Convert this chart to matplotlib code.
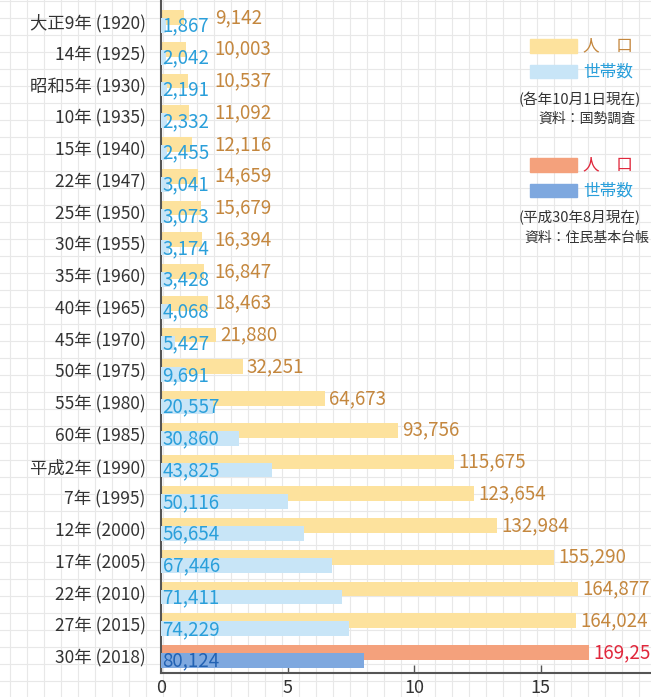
import numpy as np
import matplotlib
matplotlib.use('Agg')
import matplotlib.pyplot as plt
from matplotlib.patches import Rectangle

plt.rcParams['font.family'] = ['Noto Sans CJK JP', 'DejaVu Sans']

# data (population and households, 10,000 units on the axis)
labels = ['大正9年 (1920)', '14年 (1925)', '昭和5年 (1930)', '10年 (1935)', '15年 (1940)',
          '22年 (1947)', '25年 (1950)', '30年 (1955)', '35年 (1960)', '40年 (1965)',
          '45年 (1970)', '50年 (1975)', '55年 (1980)', '60年 (1985)', '平成2年 (1990)',
          '7年 (1995)', '12年 (2000)', '17年 (2005)', '22年 (2010)', '27年 (2015)',
          '30年 (2018)']
population = [9142, 10003, 10537, 11092, 12116, 14659, 15679, 16394, 16847, 18463,
              21880, 32251, 64673, 93756, 115675, 123654, 132984, 155290, 164877,
              164024, 169250]
households = [1867, 2042, 2191, 2332, 2455, 3041, 3073, 3174, 3428, 4068,
              5427, 9691, 20557, 30860, 43825, 50116, 56654, 67446, 71411,
              74229, 80124]
x_ticks = [0, 5, 10, 15]

pop_color = ['#fde29d'] * 20 + ['#f4a17c']
hh_color = ['#c8e5f7'] * 20 + ['#7ea8df']
pop_text = ['#c4873e'] * 20 + ['#e0283c']
hh_text = ['#2a9fda'] * 20 + ['#2262b3']

W, H = 651, 697
fig = plt.figure(figsize=(W / 100, H / 100), dpi=100)

# grid paper background
bg = fig.add_axes([0, 0, 1, 1], zorder=0)
bg.set_xlim(0, W)
bg.set_ylim(H, 0)
bg.set_xticks(np.arange(10, W, 17))
bg.set_yticks(np.arange(1, H, 17))
bg.grid(True, color='#e8e8e8', lw=0.8)
bg.tick_params(length=0, labelbottom=False, labelleft=False)
for s in bg.spines.values():
    s.set_visible(False)

ax = fig.add_axes([161 / W, 24 / H, 1 - 161 / W, 1 - 24 / H], zorder=1)
ax.set_facecolor('none')

y = np.arange(len(labels))
pop = np.array(population) / 10000
hh = np.array(households) / 10000
bh = 0.47
off = 0.126

ax.barh(y - off, pop, height=bh, color=pop_color, zorder=2)
ax.barh(y + off, hh, height=bh, color=hh_color, zorder=3)

for i in range(len(labels)):
    ax.text(0.06, y[i] + off + 0.02, f'{households[i]:,}', color=hh_text[i],
            fontsize=13.5, ha='left', va='center', zorder=4)
    ax.text(max(pop[i], 1.95) + 0.17, y[i] - off, f'{population[i]:,}', color=pop_text[i],
            fontsize=13.5, ha='left', va='center', zorder=4, clip_on=False)

ax.set_xlim(0, (W - 161) / 25.3)
ax.set_ylim(20.52, -0.677)
ax.set_yticks(y)
ax.set_yticklabels(labels, fontsize=12.5, color='#333333')
ax.set_xticks(x_ticks)
ax.set_xticklabels([str(t) for t in x_ticks], fontsize=13, color='#333333')
ax.tick_params(axis='y', length=0, pad=11)
ax.tick_params(axis='x', direction='in', length=6, width=1, color='#555555', pad=4)
for s in ['top', 'right']:
    ax.spines[s].set_visible(False)
for s in ['left', 'bottom']:
    ax.spines[s].set_color('#555555')
    ax.spines[s].set_linewidth(1.5)

# legend block on the right
bg.add_patch(Rectangle((530, 39), 47, 14, color='#fde29d', zorder=2))
bg.text(583, 46, '人　口', color='#c4873e', fontsize=12, va='center', ha='left')
bg.add_patch(Rectangle((530, 65), 47, 13, color='#c8e5f7', zorder=2))
bg.text(583, 72, '世帯数', color='#2a9fda', fontsize=12, va='center', ha='left')
bg.text(519, 99, '(各年10月1日現在)', color='#333333', fontsize=10.5, va='center', ha='left')
bg.text(587, 119, '資料：国勢調査', color='#333333', fontsize=10, va='center', ha='center')

bg.add_patch(Rectangle((530, 158), 47, 14, color='#f4a17c', zorder=2))
bg.text(583, 165, '人　口', color='#e0283c', fontsize=12, va='center', ha='left')
bg.add_patch(Rectangle((530, 184), 47, 13, color='#7ea8df', zorder=2))
bg.text(583, 191, '世帯数', color='#2a9fda', fontsize=12, va='center', ha='left')
bg.text(519, 218, '(平成30年8月現在)', color='#333333', fontsize=10.5, va='center', ha='left')
bg.text(524, 238, '資料：住民基本台帳', color='#333333', fontsize=10, va='center', ha='left')

fig.savefig('out.png', dpi=100)
